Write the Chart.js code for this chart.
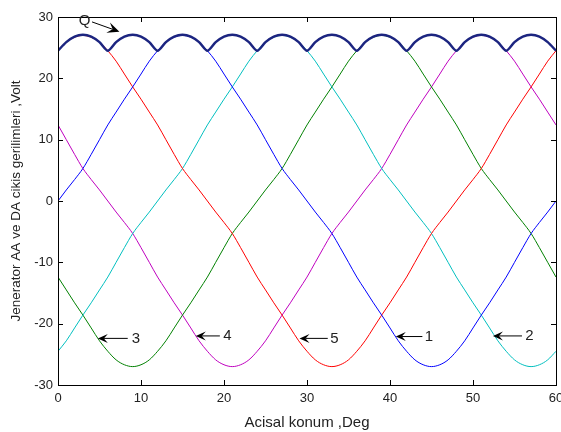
<!DOCTYPE html>
<html>
<head>
<meta charset="utf-8">
<script src="https://cdn.jsdelivr.net/npm/chart.js@4/dist/chart.umd.min.js"></script>
<style>
  html, body { margin: 0; padding: 0; background: #fff; }
  #wrap { width: 561px; height: 432px; position: relative; }
</style>
</head>
<body>
<div id="wrap"><canvas id="chart"></canvas></div>
<script>
// Acisal konum (derece)
const angles = [0,1,2,3,4,5,6,7,8,9,10,11,12,13,14,15,16,17,18,19,20,21,22,23,24,25,26,27,28,29,30,
                31,32,33,34,35,36,37,38,39,40,41,42,43,44,45,46,47,48,49,50,51,52,53,54,55,56,57,58,59,60];

// Faz gerilimleri (Volt)
const phase1 = [0,1.8,3.5,5.3,7.6,10,12.4,14.5,16.6,18.6,20.7,22.8,24.5,25.9,26.7,27,26.7,25.9,24.5,22.8,20.7,18.6,16.6,14.5,12.4,10,7.6,5.3,3.5,1.8,0,
                -1.8,-3.5,-5.3,-7.6,-10,-12.4,-14.5,-16.6,-18.6,-20.7,-22.8,-24.5,-25.9,-26.7,-27,-26.7,-25.9,-24.5,-22.8,-20.7,-18.6,-16.6,-14.5,-12.4,-10,-7.6,-5.3,-3.5,-1.8,0];
const phase5 = [24.5,25.9,26.7,27,26.7,25.9,24.5,22.8,20.7,18.6,16.6,14.5,12.4,10,7.6,5.3,3.5,1.8,0,-1.8,-3.5,-5.3,-7.6,-10,-12.4,-14.5,-16.6,-18.6,-20.7,-22.8,-24.5,
                -25.9,-26.7,-27,-26.7,-25.9,-24.5,-22.8,-20.7,-18.6,-16.6,-14.5,-12.4,-10,-7.6,-5.3,-3.5,-1.8,0,1.8,3.5,5.3,7.6,10,12.4,14.5,16.6,18.6,20.7,22.8,24.5];
const phase4 = [12.4,10,7.6,5.3,3.5,1.8,0,-1.8,-3.5,-5.3,-7.6,-10,-12.4,-14.5,-16.6,-18.6,-20.7,-22.8,-24.5,-25.9,-26.7,-27,-26.7,-25.9,-24.5,-22.8,-20.7,-18.6,-16.6,-14.5,-12.4,
                -10,-7.6,-5.3,-3.5,-1.8,0,1.8,3.5,5.3,7.6,10,12.4,14.5,16.6,18.6,20.7,22.8,24.5,25.9,26.7,27,26.7,25.9,24.5,22.8,20.7,18.6,16.6,14.5,12.4];
const phase3 = [-12.4,-14.5,-16.6,-18.6,-20.7,-22.8,-24.5,-25.9,-26.7,-27,-26.7,-25.9,-24.5,-22.8,-20.7,-18.6,-16.6,-14.5,-12.4,-10,-7.6,-5.3,-3.5,-1.8,0,1.8,3.5,5.3,7.6,10,12.4,
                14.5,16.6,18.6,20.7,22.8,24.5,25.9,26.7,27,26.7,25.9,24.5,22.8,20.7,18.6,16.6,14.5,12.4,10,7.6,5.3,3.5,1.8,0,-1.8,-3.5,-5.3,-7.6,-10,-12.4];
const phase2 = [-24.5,-22.8,-20.7,-18.6,-16.6,-14.5,-12.4,-10,-7.6,-5.3,-3.5,-1.8,0,1.8,3.5,5.3,7.6,10,12.4,14.5,16.6,18.6,20.7,22.8,24.5,25.9,26.7,27,26.7,25.9,24.5,
                22.8,20.7,18.6,16.6,14.5,12.4,10,7.6,5.3,3.5,1.8,0,-1.8,-3.5,-5.3,-7.6,-10,-12.4,-14.5,-16.6,-18.6,-20.7,-22.8,-24.5,-25.9,-26.7,-27,-26.7,-25.9,-24.5];

// DA cikis gerilimi Q
const outputQ = [24.5,25.9,26.8,27.1,26.8,25.9,24.5,25.9,26.8,27.1,26.8,25.9,24.5,25.9,26.8,27.1,26.8,25.9,24.5,25.9,26.8,27.1,26.8,25.9,24.5,25.9,26.8,27.1,26.8,25.9,24.5,
                 25.9,26.8,27.1,26.8,25.9,24.5,25.9,26.8,27.1,26.8,25.9,24.5,25.9,26.8,27.1,26.8,25.9,24.5,25.9,26.8,27.1,26.8,25.9,24.5,25.9,26.8,27.1,26.8,25.9,24.5];

const xTicks = [0, 10, 20, 30, 40, 50, 60];
const yTicks = [-30, -20, -10, 0, 10, 20, 30];

const FONT = '"Liberation Sans", Arial, sans-serif';

// Etiketli oklar (veri koordinatlari)
const arrowNotes = [
    { text: 'Q', tip: [7.4, 27.6], tail: [4.1, 29.2], textAt: [3.2, 29.4], head: 12 },
    { text: '3', tip: [4.8, -22.4], tail: [8.4, -22.4], textAt: [9.4, -22.4], head: 10 },
    { text: '4', tip: [16.6, -22.0], tail: [19.5, -22.0], textAt: [20.4, -22.0], head: 10 },
    { text: '5', tip: [29.1, -22.4], tail: [32.5, -22.4], textAt: [33.3, -22.4], head: 10 },
    { text: '1', tip: [40.7, -22.1], tail: [43.9, -22.1], textAt: [44.7, -22.1], head: 10 },
    { text: '2', tip: [52.4, -22.0], tail: [55.9, -22.0], textAt: [56.8, -22.0], head: 10 }
];

function toPoints(values) {
    return angles.map((a, i) => ({ x: a, y: values[i] }));
}

// Cerceve ve iceri bakan tik cizgileri (MATLAB gorunumu)
const framePlugin = {
    id: 'frame',
    afterDatasetsDraw(chart) {
        const { ctx, chartArea: a, scales } = chart;
        ctx.save();
        ctx.strokeStyle = '#000';
        ctx.lineWidth = 1;
        ctx.beginPath();
        xTicks.forEach(v => {
            const px = Math.round(scales.x.getPixelForValue(v)) + 0.5;
            ctx.moveTo(px, a.bottom); ctx.lineTo(px, a.bottom - 5);
            ctx.moveTo(px, a.top); ctx.lineTo(px, a.top + 5);
        });
        yTicks.forEach(v => {
            const py = Math.round(scales.y.getPixelForValue(v)) + 0.5;
            ctx.moveTo(a.left, py); ctx.lineTo(a.left + 5, py);
            ctx.moveTo(a.right, py); ctx.lineTo(a.right - 5, py);
        });
        ctx.stroke();
        ctx.strokeRect(Math.round(a.left) + 0.5, Math.round(a.top) + 0.5,
                       Math.round(a.right - a.left), Math.round(a.bottom - a.top));

        // oklar
        arrowNotes.forEach(n => {
            const tx = scales.x.getPixelForValue(n.tip[0]), ty = scales.y.getPixelForValue(n.tip[1]);
            const sx = scales.x.getPixelForValue(n.tail[0]), sy = scales.y.getPixelForValue(n.tail[1]);
            const ang = Math.atan2(ty - sy, tx - sx);
            const h = n.head, w = h * 0.45;
            const c = Math.cos(ang), s = Math.sin(ang);
            ctx.beginPath();
            ctx.moveTo(sx, sy);
            ctx.lineTo(tx - c * h * 0.6, ty - s * h * 0.6);
            ctx.stroke();
            ctx.beginPath();
            ctx.moveTo(tx, ty);
            ctx.lineTo(tx - c * h + s * w, ty - s * h - c * w);
            ctx.lineTo(tx - c * h * 0.6, ty - s * h * 0.6);
            ctx.lineTo(tx - c * h - s * w, ty - s * h + c * w);
            ctx.closePath();
            ctx.fillStyle = '#000';
            ctx.fill();
            ctx.font = '15px ' + FONT;
            ctx.fillStyle = '#222';
            ctx.textAlign = 'center';
            ctx.textBaseline = 'middle';
            ctx.fillText(n.text, scales.x.getPixelForValue(n.textAt[0]), scales.y.getPixelForValue(n.textAt[1]));
        });
        ctx.restore();
    }
};

function phaseSet(values, color, order) {
    return {
        data: toPoints(values),
        borderColor: color,
        borderWidth: 1,
        pointRadius: 0,
        cubicInterpolationMode: 'monotone',
        fill: false,
        order: order
    };
}

new Chart(document.getElementById('chart'), {
    type: 'line',
    data: {
        datasets: [
            {
                data: toPoints(outputQ),
                borderColor: '#1c2580',
                borderWidth: 2.5,
                pointRadius: 0,
                tension: 0.25,
                fill: false,
                order: 0
            },
            phaseSet(phase1, '#0000ff', 1),
            phaseSet(phase5, '#ff0000', 2),
            phaseSet(phase2, '#00bfbf', 3),
            phaseSet(phase3, '#008000', 4),
            phaseSet(phase4, '#bf00bf', 5)
        ]
    },
    options: {
        responsive: true,
        maintainAspectRatio: false,
        animation: false,
        layout: { padding: { top: 17, right: 5, left: 8, bottom: 0 } },
        plugins: {
            legend: { display: false },
            tooltip: { enabled: false }
        },
        scales: {
            x: {
                type: 'linear',
                min: 0,
                max: 60,
                grid: { display: false, drawTicks: false },
                border: { display: false },
                afterFit: s => { s.height = 47; s.paddingLeft = 0; s.paddingRight = 0; },
                afterBuildTicks: s => { s.ticks = xTicks.map(v => ({ value: v })); },
                ticks: { color: '#222', padding: 6, font: { family: FONT, size: 13 } },
                title: {
                    display: true,
                    text: 'Acisal konum ,Deg',
                    color: '#222',
                    padding: { top: 2, bottom: 0 },
                    font: { family: FONT, size: 15 }
                }
            },
            y: {
                min: -30,
                max: 30,
                grid: { display: false, drawTicks: false },
                border: { display: false },
                afterFit: s => { s.width = 50; s.paddingTop = 0; s.paddingBottom = 0; },
                afterBuildTicks: s => { s.ticks = yTicks.map(v => ({ value: v })); },
                ticks: { color: '#222', padding: 5, font: { family: FONT, size: 13 } },
                title: {
                    display: true,
                    text: 'Jenerator AA ve DA cikis gerilimleri ,Volt',
                    color: '#222',
                    padding: { top: 0, bottom: 0 },
                    font: { family: FONT, size: 13.5 }
                }
            }
        }
    },
    plugins: [framePlugin]
});
</script>
</body>
</html>
